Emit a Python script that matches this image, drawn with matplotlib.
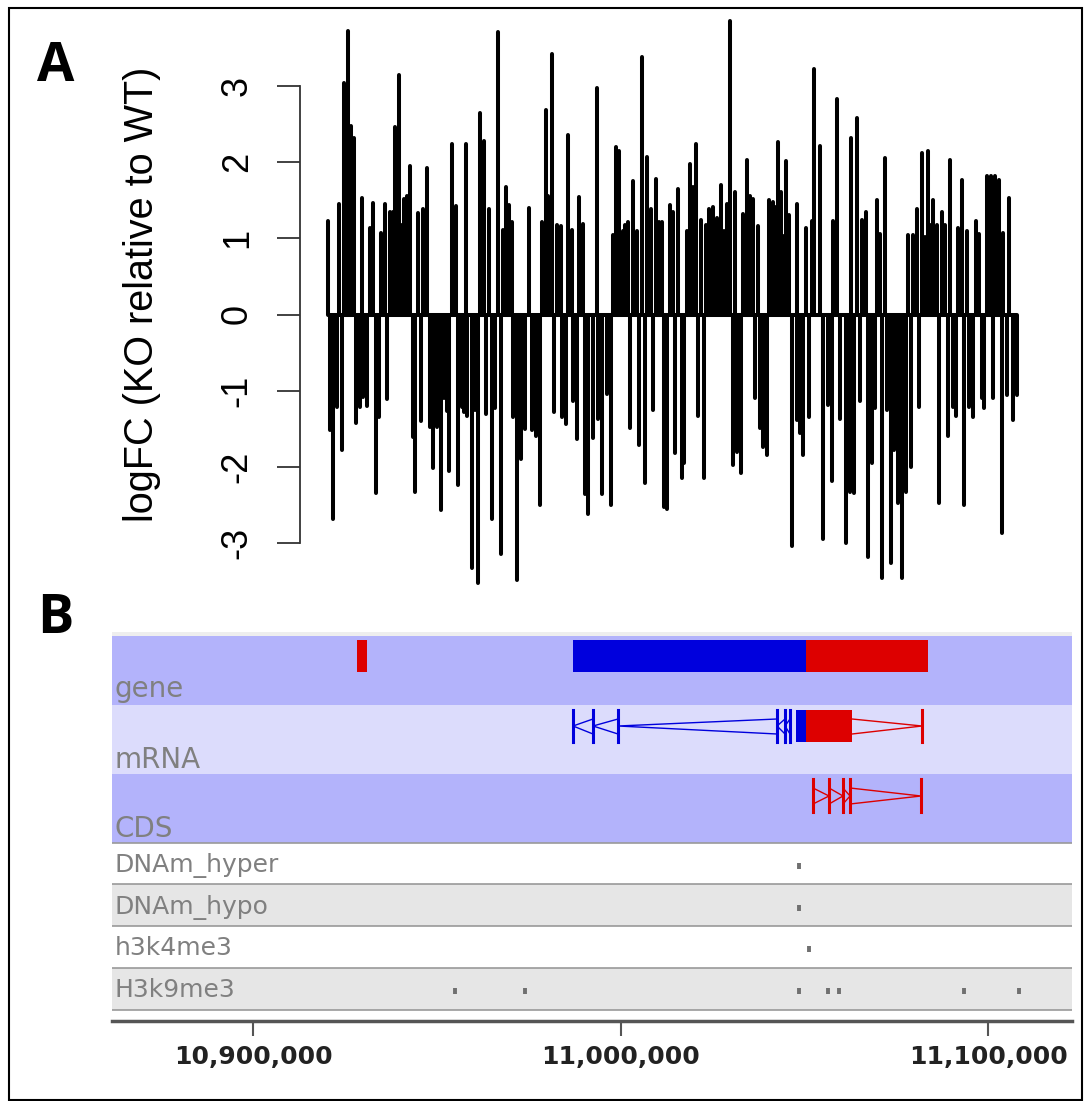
import matplotlib.pyplot as plt
from matplotlib.patches import Rectangle

# ---- panel A: logFC per gene along the region (position in gene order units) ----
up_pos = [328, 339, 344, 348, 351, 354, 362, 370, 373, 381, 385, 390, 393, 395, 399, 401,
          404, 407, 410, 418, 423, 427, 452, 456, 466, 480, 484, 489, 498, 503, 506, 509,
          512, 529, 542, 546, 548, 552, 557, 561, 568, 572, 579, 583, 597, 613, 616, 619,
          623, 625, 628, 633, 637, 642, 647, 651, 656, 659, 662, 670, 673, 678, 687, 690,
          693, 696, 701, 706, 709, 713, 717, 721, 724, 727, 730, 735, 743, 747, 750, 753,
          758, 769, 773, 775, 778, 781, 784, 786, 789, 797, 806, 812, 814, 820, 833, 837,
          851, 857, 862, 866, 877, 880, 885, 908, 913, 917, 922, 925, 928, 931, 933, 937,
          942, 945, 950, 958, 962, 967, 976, 979, 987, 991, 995, 999, 1003, 1009]
up_fc = [1.23, 1.45, 3.04, 3.72, 2.48, 2.32, 1.53, 1.14, 1.46, 1.07, 1.45, 1.34, 1.34, 2.46, 3.15, 1.18,
         1.52, 1.55, 1.95, 1.33, 1.39, 1.92, 2.24, 1.43, 2.24, 2.65, 2.28, 1.38, 3.71, 1.11, 1.67, 1.44,
         1.22, 1.40, 1.22, 2.69, 1.56, 3.42, 1.18, 1.16, 2.36, 1.11, 1.54, 1.19, 2.98, 1.05, 2.20, 2.15,
         1.10, 1.18, 1.21, 1.75, 1.09, 3.38, 2.07, 1.38, 1.78, 1.22, 1.21, 1.44, 1.35, 1.65, 1.09, 1.97,
         1.68, 2.24, 1.24, 1.17, 1.39, 1.41, 1.27, 1.70, 1.09, 1.45, 3.85, 1.61, 1.32, 2.03, 1.56, 1.51,
         1.16, 1.50, 1.48, 1.41, 2.26, 1.61, 1.03, 2.02, 1.31, 1.45, 1.14, 1.23, 3.22, 2.21, 1.23, 2.83,
         2.32, 2.58, 1.24, 1.35, 1.50, 1.06, 2.06, 1.05, 1.04, 1.39, 2.12, 1.02, 2.14, 1.18, 1.50, 1.17,
         1.34, 1.17, 2.03, 1.14, 1.77, 1.09, 1.23, 1.06, 1.82, 1.82, 1.82, 1.76, 1.07, 1.53]

down_pos = [330, 333, 337, 342, 356, 360, 363, 367, 376, 379, 387, 413, 415, 421, 430, 433,
            437, 441, 444, 447, 449, 458, 462, 464, 467, 472, 475, 478, 486, 492, 495, 501,
            513, 517, 521, 525, 532, 536, 540, 554, 562, 566, 573, 577, 585, 588, 593, 598,
            602, 607, 611, 630, 639, 645, 653, 664, 667, 675, 682, 684, 698, 704, 733, 737,
            741, 755, 760, 763, 767, 792, 797, 800, 803, 809, 823, 828, 832, 840, 846, 850,
            854, 860, 868, 872, 875, 882, 887, 891, 894, 898, 902, 906, 911, 919, 939, 948,
            953, 956, 964, 969, 973, 982, 984, 993, 1002, 1007, 1013, 1017]
down_fc = [-1.52, -2.69, -1.21, -1.78, -1.43, -1.22, -1.08, -1.20, -2.35, -1.35, -1.11, -1.61, -2.33, -1.40, -1.48, -2.02,
           -1.48, -2.57, -1.10, -1.27, -2.06, -2.24, -1.22, -1.28, -1.33, -3.33, -1.26, -3.53, -1.30, -2.68, -1.23, -3.15,
           -1.35, -3.49, -1.90, -1.50, -1.51, -1.59, -2.50, -1.28, -1.35, -1.44, -1.13, -1.63, -2.36, -2.62, -1.62, -1.37,
           -2.36, -1.04, -2.50, -1.49, -1.71, -2.21, -1.26, -2.53, -2.55, -1.82, -2.15, -1.95, -1.33, -2.15, -1.97, -1.80,
           -2.08, -1.10, -1.49, -1.74, -1.84, -3.04, -1.39, -1.56, -1.85, -1.34, -2.95, -1.19, -2.19, -1.37, -3.00, -2.33,
           -2.34, -1.14, -3.18, -1.95, -1.23, -3.46, -1.26, -3.26, -1.78, -2.48, -3.46, -2.33, -2.00, -1.22, -2.48, -1.59,
           -1.21, -1.33, -2.50, -1.21, -1.35, -1.09, -1.23, -1.09, -2.87, -1.06, -1.38, -1.06]

# ---- panel B: genome browser tracks (bp) ----
tick_bp = [10900000, 11000000, 11100000]
tick_labels = ['10,900,000', '11,000,000', '11,100,000']
view_bp = (10861634, 11122850)

gene_small_red = (10928300, 10931020)
gene_blue = (10987075, 11050476)
gene_red = (11050476, 11083673)

mrna_blue_ticks = [10987075, 10992517, 10999320, 11042585, 11044762, 11046122]
mrna_blue_box = (11047755, 11050476)
mrna_red_box = (11050476, 11062993)
mrna_red_end = 11082040

cds_red_ticks = [11052381, 11056735, 11060544, 11062449, 11081768]

track_names = ['DNAm_hyper', 'DNAm_hypo', 'h3k4me3', 'H3k9me3']
track_peaks = [[11048567], [11048567], [11051288],
               [10954964, 10974011, 11048567, 11056458, 11059451, 11093463, 11108429]]

W, H = 1084, 1101
BLUE = '#0000dd'
RED = '#dd0000'


def fbox(x0, y0, x1, y1):
    return [x0 / W, 1 - y1 / H, (x1 - x0) / W, (y1 - y0) / H]


fig = plt.figure(figsize=(W / 100, H / 100), dpi=100)

# ---------------- panel A ----------------
unit = 76.17
zero_px = 314.5
ytop, ybot = 3.9, -3.6
axA = fig.add_axes(fbox(300, zero_px - ytop * unit, 1040, zero_px - ybot * unit))
axA.set_xlim(300, 1040)
axA.set_ylim(ybot, ytop)
lw_bar = 2.9
allpos = up_pos + down_pos
axA.hlines(0, min(allpos), max(allpos), colors='k', lw=lw_bar)
lc1 = axA.vlines(up_pos, 0, up_fc, colors='k', lw=lw_bar)
lc2 = axA.vlines(down_pos, 0, down_fc, colors='k', lw=lw_bar)
lc1.set_capstyle('round')
lc2.set_capstyle('round')
for s in ['top', 'right', 'bottom']:
    axA.spines[s].set_visible(False)
axA.spines['left'].set_bounds(-3, 3)
axA.spines['left'].set_color('#333333')
axA.spines['left'].set_linewidth(1.3)
axA.set_xticks([])
axA.set_yticks(range(-3, 4))
axA.set_yticklabels([str(v) for v in range(-3, 4)], rotation=90, va='center',
                    fontsize=26, family='Liberation Sans')
axA.tick_params(axis='y', length=16.5, width=1.3, color='#333333', pad=16)
fig.text(142 / W, 1 - 294 / H, 'logFC (KO relative to WT)', rotation=90,
         ha='center', va='center', fontsize=28.5, family='Liberation Sans')

# panel letters
fig.text(56 / W, 1 - 67 / H, 'A', ha='center', va='center', fontsize=39,
         fontweight='bold', family='Open Sans')
fig.text(55 / W, 1 - 619 / H, 'B', ha='center', va='center', fontsize=39,
         fontweight='bold', family='Open Sans')

# ---------------- panel B ----------------
axB = fig.add_axes(fbox(112, 632, 1072, 1021))
axB.set_xlim(*view_bp)
axB.set_ylim(1021, 632)

# track backgrounds (y in screen rows)
axB.axhspan(632, 636, color='#eeeeee', lw=0)
axB.axhspan(636, 705, color='#b3b3fb', lw=0)
axB.axhspan(705, 774, color='#dcdcfc', lw=0)
axB.axhspan(774, 843, color='#b3b3fb', lw=0)
axB.axhspan(884, 926, color='#e6e6e6', lw=0)
axB.axhspan(968, 1010, color='#e6e6e6', lw=0)
for yy in [843, 884, 926, 968, 1010]:
    axB.axhline(yy, color='#999999', lw=1.2)

gray = '#808080'
lab_x = 10862300
axB.text(lab_x, 697, 'gene', color=gray, fontsize=20, va='baseline')
axB.text(lab_x, 768, 'mRNA', color=gray, fontsize=20, va='baseline')
axB.text(lab_x, 837, 'CDS', color=gray, fontsize=20, va='baseline')

# gene track
for (a, b), c in [(gene_small_red, RED), (gene_blue, BLUE), (gene_red, RED)]:
    axB.add_patch(Rectangle((a, 640), b - a, 32, color=c, lw=0))

# mRNA track
yc = 726
for x in mrna_blue_ticks:
    axB.plot([x, x], [710, 742], color=BLUE, lw=2.2)
for a, b in zip(mrna_blue_ticks[:-1], mrna_blue_ticks[1:]):
    axB.plot([b, a, b], [719, yc, 734], color=BLUE, lw=1)
a, b = mrna_blue_box
axB.add_patch(Rectangle((a, 710), b - a, 32, color=BLUE, lw=0))
a, b = mrna_red_box
axB.add_patch(Rectangle((a, 710), b - a, 32, color=RED, lw=0))
axB.plot([b, mrna_red_end, b], [719, yc, 734], color=RED, lw=1)
axB.plot([mrna_red_end, mrna_red_end], [710, 742], color=RED, lw=2.2)

# CDS track
yc = 796
for x in cds_red_ticks:
    axB.plot([x, x], [779, 812], color=RED, lw=2.2)
for a, b in zip(cds_red_ticks[:-1], cds_red_ticks[1:]):
    axB.plot([a, b, a], [788, yc, 804], color=RED, lw=1)

# peak tracks
label_y = [865, 907, 948, 990]
for name, peaks, ly in zip(track_names, track_peaks, label_y):
    axB.text(lab_x, ly, name, color=gray, fontsize=18, va='center')
    axB.vlines(peaks, ly - 2.5, ly + 4, colors='#707070', lw=2.8)

for s in ['top', 'right', 'left']:
    axB.spines[s].set_visible(False)
axB.spines['bottom'].set_color('#555555')
axB.spines['bottom'].set_linewidth(2.5)
axB.set_yticks([])
axB.set_xticks(tick_bp)
axB.set_xticklabels(tick_labels, fontsize=18, fontweight='bold', color='#222222')
axB.tick_params(axis='x', length=11, width=1.5, color='#555555', pad=6)

# outer frame
fig.patches.append(Rectangle((9 / W, 1 / H), 1073 / W, 1 - 9 / H, transform=fig.transFigure,
                             fill=False, edgecolor='k', lw=1.5))

fig.savefig('out.png', dpi=100)
